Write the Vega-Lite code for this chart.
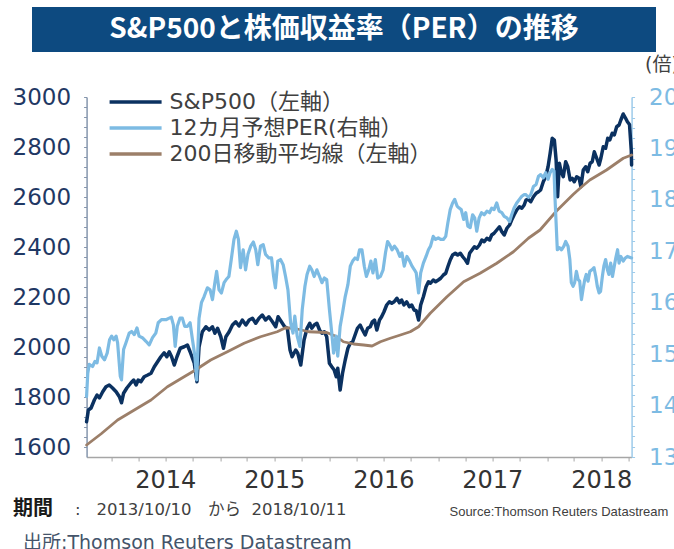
{
"$schema": "https://vega.github.io/schema/vega-lite/v6.json",
"padding": {"left": 12, "top": 7, "right": 0, "bottom": 0},
"background": "white",
"config": {"view": {"stroke": null}, "axis": {"grid": false}},
"datasets": {
"ttl": [{"t": "S&P500と株価収益率（PER）の推移"}],
"sp": [
{"d":"2013-10-10","v":1701},{"d":"2013-10-16","v":1748},{"d":"2013-10-25","v":1756},{"d":"2013-11-05","v":1788},{"d":"2013-11-14","v":1808},{"d":"2013-11-22","v":1796},{"d":"2013-12-03","v":1821},{"d":"2013-12-14","v":1841},{"d":"2013-12-25","v":1848},{"d":"2014-01-05","v":1836},{"d":"2014-01-17","v":1821},{"d":"2014-01-28","v":1801},{"d":"2014-02-04","v":1777},{"d":"2014-02-11","v":1815},{"d":"2014-02-22","v":1836},{"d":"2014-03-08","v":1857},{"d":"2014-03-17","v":1868},{"d":"2014-03-25","v":1848},{"d":"2014-04-01","v":1868},{"d":"2014-04-10","v":1861},{"d":"2014-04-21","v":1881},{"d":"2014-05-03","v":1888},{"d":"2014-05-14","v":1895},{"d":"2014-05-25","v":1921},{"d":"2014-06-05","v":1941},{"d":"2014-06-16","v":1961},{"d":"2014-06-27","v":1977},{"d":"2014-07-06","v":1961},{"d":"2014-07-14","v":1981},{"d":"2014-07-22","v":1961},{"d":"2014-07-31","v":1928},{"d":"2014-08-09","v":1961},{"d":"2014-08-20","v":1995},{"d":"2014-09-02","v":2001},{"d":"2014-09-13","v":2008},{"d":"2014-09-22","v":1981},{"d":"2014-10-06","v":1935},{"d":"2014-10-15","v":1861},{"d":"2014-10-22","v":2000},{"d":"2014-11-02","v":2061},{"d":"2014-11-14","v":2081},{"d":"2014-11-25","v":2068},{"d":"2014-12-06","v":2081},{"d":"2014-12-14","v":2055},{"d":"2014-12-23","v":2075},{"d":"2015-01-03","v":2041},{"d":"2015-01-12","v":1995},{"d":"2015-01-20","v":2041},{"d":"2015-01-31","v":2061},{"d":"2015-02-11","v":2088},{"d":"2015-02-22","v":2101},{"d":"2015-03-05","v":2084},{"d":"2015-03-16","v":2108},{"d":"2015-03-28","v":2088},{"d":"2015-04-08","v":2108},{"d":"2015-04-19","v":2115},{"d":"2015-04-30","v":2095},{"d":"2015-05-11","v":2115},{"d":"2015-05-22","v":2128},{"d":"2015-06-02","v":2108},{"d":"2015-06-13","v":2121},{"d":"2015-06-25","v":2101},{"d":"2015-07-06","v":2081},{"d":"2015-07-14","v":2121},{"d":"2015-07-25","v":2101},{"d":"2015-08-05","v":2081},{"d":"2015-08-14","v":2075},{"d":"2015-08-23","v":1988},{"d":"2015-08-30","v":1961},{"d":"2015-09-11","v":1988},{"d":"2015-09-18","v":1975},{"d":"2015-09-28","v":1928},{"d":"2015-10-09","v":2028},{"d":"2015-10-19","v":2075},{"d":"2015-10-28","v":2095},{"d":"2015-11-04","v":2075},{"d":"2015-11-12","v":2088},{"d":"2015-11-21","v":2095},{"d":"2015-11-30","v":2068},{"d":"2015-12-08","v":2055},{"d":"2015-12-16","v":2061},{"d":"2015-12-24","v":2041},{"d":"2016-01-02","v":1935},{"d":"2016-01-10","v":1921},{"d":"2016-01-18","v":1908},{"d":"2016-01-25","v":1881},{"d":"2016-01-30","v":1915},{"d":"2016-02-07","v":1828},{"d":"2016-02-15","v":1895},{"d":"2016-02-24","v":1948},{"d":"2016-03-04","v":1995},{"d":"2016-03-12","v":2015},{"d":"2016-03-20","v":2021},{"d":"2016-03-28","v":2048},{"d":"2016-04-05","v":2075},{"d":"2016-04-14","v":2088},{"d":"2016-04-22","v":2068},{"d":"2016-05-01","v":2048},{"d":"2016-05-09","v":2075},{"d":"2016-05-18","v":2081},{"d":"2016-05-25","v":2101},{"d":"2016-06-01","v":2108},{"d":"2016-06-09","v":2068},{"d":"2016-06-18","v":2108},{"d":"2016-06-25","v":2121},{"d":"2016-07-03","v":2141},{"d":"2016-07-12","v":2168},{"d":"2016-07-21","v":2181},{"d":"2016-07-29","v":2175},{"d":"2016-08-06","v":2181},{"d":"2016-08-15","v":2195},{"d":"2016-08-24","v":2177},{"d":"2016-08-31","v":2188},{"d":"2016-09-08","v":2168},{"d":"2016-09-17","v":2181},{"d":"2016-09-26","v":2161},{"d":"2016-10-04","v":2168},{"d":"2016-10-12","v":2148},{"d":"2016-10-19","v":2145},{"d":"2016-10-27","v":2108},{"d":"2016-11-03","v":2168},{"d":"2016-11-12","v":2201},{"d":"2016-11-21","v":2241},{"d":"2016-11-29","v":2261},{"d":"2016-12-06","v":2255},{"d":"2016-12-15","v":2268},{"d":"2016-12-23","v":2261},{"d":"2017-01-01","v":2268},{"d":"2017-01-09","v":2275},{"d":"2017-01-18","v":2288},{"d":"2017-01-26","v":2295},{"d":"2017-02-02","v":2321},{"d":"2017-02-10","v":2348},{"d":"2017-02-18","v":2368},{"d":"2017-02-27","v":2375},{"d":"2017-03-07","v":2368},{"d":"2017-03-16","v":2375},{"d":"2017-03-24","v":2361},{"d":"2017-04-02","v":2348},{"d":"2017-04-09","v":2335},{"d":"2017-04-16","v":2375},{"d":"2017-04-24","v":2388},{"d":"2017-05-02","v":2401},{"d":"2017-05-10","v":2395},{"d":"2017-05-19","v":2408},{"d":"2017-05-27","v":2428},{"d":"2017-06-04","v":2421},{"d":"2017-06-13","v":2435},{"d":"2017-06-22","v":2428},{"d":"2017-06-29","v":2448},{"d":"2017-07-07","v":2455},{"d":"2017-07-16","v":2468},{"d":"2017-07-25","v":2481},{"d":"2017-08-02","v":2461},{"d":"2017-08-10","v":2448},{"d":"2017-08-19","v":2475},{"d":"2017-08-28","v":2488},{"d":"2017-09-04","v":2508},{"d":"2017-09-12","v":2528},{"d":"2017-09-21","v":2548},{"d":"2017-09-30","v":2561},{"d":"2017-10-08","v":2555},{"d":"2017-10-16","v":2568},{"d":"2017-10-22","v":2588},{"d":"2017-10-30","v":2590},{"d":"2017-11-07","v":2581},{"d":"2017-11-16","v":2601},{"d":"2017-11-25","v":2615},{"d":"2017-12-03","v":2621},{"d":"2017-12-10","v":2628},{"d":"2017-12-19","v":2661},{"d":"2017-12-27","v":2681},{"d":"2018-01-04","v":2721},{"d":"2018-01-11","v":2775},{"d":"2018-01-18","v":2835},{"d":"2018-01-25","v":2828},{"d":"2018-01-31","v":2748},{"d":"2018-02-05","v":2601},{"d":"2018-02-11","v":2735},{"d":"2018-02-17","v":2701},{"d":"2018-02-24","v":2681},{"d":"2018-03-04","v":2741},{"d":"2018-03-11","v":2721},{"d":"2018-03-19","v":2668},{"d":"2018-03-26","v":2675},{"d":"2018-04-02","v":2661},{"d":"2018-04-10","v":2681},{"d":"2018-04-18","v":2675},{"d":"2018-04-24","v":2641},{"d":"2018-05-02","v":2708},{"d":"2018-05-10","v":2721},{"d":"2018-05-17","v":2701},{"d":"2018-05-25","v":2735},{"d":"2018-06-01","v":2741},{"d":"2018-06-08","v":2781},{"d":"2018-06-16","v":2755},{"d":"2018-06-24","v":2728},{"d":"2018-06-30","v":2755},{"d":"2018-07-08","v":2801},{"d":"2018-07-16","v":2795},{"d":"2018-07-23","v":2835},{"d":"2018-07-30","v":2828},{"d":"2018-08-07","v":2855},{"d":"2018-08-14","v":2848},{"d":"2018-08-22","v":2881},{"d":"2018-08-30","v":2888},{"d":"2018-09-05","v":2908},{"d":"2018-09-13","v":2932},{"d":"2018-09-21","v":2915},{"d":"2018-09-27","v":2901},{"d":"2018-10-04","v":2890},{"d":"2018-10-10","v":2785},{"d":"2018-10-11","v":2728}
],
"per": [
{"d":"2013-10-10","v":14.18},{"d":"2013-10-14","v":14.63},{"d":"2013-10-19","v":14.8},{"d":"2013-10-30","v":14.76},{"d":"2013-11-07","v":14.86},{"d":"2013-11-14","v":14.83},{"d":"2013-11-22","v":15.12},{"d":"2013-11-30","v":14.96},{"d":"2013-12-09","v":14.89},{"d":"2013-12-18","v":15.02},{"d":"2013-12-26","v":15.28},{"d":"2014-01-02","v":15.35},{"d":"2014-01-09","v":15.28},{"d":"2014-01-17","v":15.35},{"d":"2014-01-22","v":15.22},{"d":"2014-01-31","v":14.57},{"d":"2014-02-04","v":14.5},{"d":"2014-02-11","v":15.09},{"d":"2014-02-19","v":15.22},{"d":"2014-03-02","v":15.41},{"d":"2014-03-10","v":15.44},{"d":"2014-03-19","v":15.38},{"d":"2014-03-28","v":15.51},{"d":"2014-04-04","v":15.35},{"d":"2014-04-15","v":15.32},{"d":"2014-04-27","v":15.25},{"d":"2014-05-08","v":15.18},{"d":"2014-05-19","v":15.32},{"d":"2014-05-30","v":15.41},{"d":"2014-06-07","v":15.61},{"d":"2014-06-18","v":15.67},{"d":"2014-07-03","v":15.67},{"d":"2014-07-14","v":15.7},{"d":"2014-07-21","v":15.72},{"d":"2014-07-28","v":15.57},{"d":"2014-08-03","v":15.15},{"d":"2014-08-10","v":15.54},{"d":"2014-08-19","v":15.7},{"d":"2014-08-27","v":15.7},{"d":"2014-09-04","v":15.54},{"d":"2014-09-13","v":15.54},{"d":"2014-09-22","v":15.61},{"d":"2014-09-30","v":15.28},{"d":"2014-10-08","v":14.96},{"d":"2014-10-14","v":14.5},{"d":"2014-10-22","v":15.7},{"d":"2014-10-30","v":16.0},{"d":"2014-11-08","v":16.12},{"d":"2014-11-19","v":16.29},{"d":"2014-11-28","v":16.25},{"d":"2014-12-06","v":16.06},{"d":"2014-12-14","v":16.39},{"d":"2014-12-20","v":16.61},{"d":"2014-12-28","v":16.25},{"d":"2015-01-05","v":16.19},{"d":"2015-01-14","v":16.39},{"d":"2015-01-21","v":16.45},{"d":"2015-01-30","v":16.51},{"d":"2015-02-07","v":16.84},{"d":"2015-02-16","v":17.23},{"d":"2015-02-24","v":17.39},{"d":"2015-03-03","v":17.23},{"d":"2015-03-10","v":16.68},{"d":"2015-03-19","v":17.03},{"d":"2015-03-27","v":16.64},{"d":"2015-04-04","v":16.94},{"d":"2015-04-13","v":17.1},{"d":"2015-04-22","v":17.18},{"d":"2015-04-30","v":17.03},{"d":"2015-05-07","v":16.74},{"d":"2015-05-16","v":17.1},{"d":"2015-05-25","v":17.13},{"d":"2015-06-02","v":16.94},{"d":"2015-06-13","v":16.87},{"d":"2015-06-22","v":16.87},{"d":"2015-06-29","v":16.51},{"d":"2015-07-05","v":16.29},{"d":"2015-07-13","v":16.81},{"d":"2015-07-22","v":16.84},{"d":"2015-07-31","v":16.74},{"d":"2015-08-08","v":16.51},{"d":"2015-08-16","v":16.25},{"d":"2015-08-25","v":15.61},{"d":"2015-09-02","v":15.41},{"d":"2015-09-08","v":15.74},{"d":"2015-09-16","v":15.35},{"d":"2015-09-25","v":15.15},{"d":"2015-10-03","v":15.87},{"d":"2015-10-12","v":16.32},{"d":"2015-10-19","v":16.55},{"d":"2015-10-28","v":16.71},{"d":"2015-11-04","v":16.64},{"d":"2015-11-12","v":16.51},{"d":"2015-11-21","v":16.64},{"d":"2015-11-30","v":16.51},{"d":"2015-12-08","v":16.39},{"d":"2015-12-16","v":16.48},{"d":"2015-12-24","v":16.45},{"d":"2016-01-02","v":15.87},{"d":"2016-01-10","v":15.41},{"d":"2016-01-16","v":15.02},{"d":"2016-01-24","v":15.35},{"d":"2016-01-30","v":14.96},{"d":"2016-02-07","v":15.54},{"d":"2016-02-15","v":15.8},{"d":"2016-02-24","v":16.12},{"d":"2016-03-04","v":16.35},{"d":"2016-03-12","v":16.71},{"d":"2016-03-20","v":16.81},{"d":"2016-03-28","v":16.87},{"d":"2016-04-05","v":16.84},{"d":"2016-04-12","v":17.03},{"d":"2016-04-20","v":17.03},{"d":"2016-04-28","v":16.71},{"d":"2016-05-05","v":16.51},{"d":"2016-05-13","v":16.64},{"d":"2016-05-20","v":16.81},{"d":"2016-05-27","v":16.58},{"d":"2016-06-04","v":16.84},{"d":"2016-06-12","v":16.48},{"d":"2016-06-21","v":16.51},{"d":"2016-06-30","v":16.64},{"d":"2016-07-08","v":16.97},{"d":"2016-07-15","v":17.19},{"d":"2016-07-22","v":17.13},{"d":"2016-07-30","v":17.03},{"d":"2016-08-07","v":17.1},{"d":"2016-08-16","v":17.03},{"d":"2016-08-25","v":16.9},{"d":"2016-09-01","v":16.97},{"d":"2016-09-09","v":16.71},{"d":"2016-09-18","v":16.9},{"d":"2016-09-27","v":16.81},{"d":"2016-10-05","v":16.71},{"d":"2016-10-13","v":16.64},{"d":"2016-10-19","v":16.58},{"d":"2016-10-27","v":16.19},{"d":"2016-11-03","v":16.58},{"d":"2016-11-12","v":16.77},{"d":"2016-11-21","v":16.9},{"d":"2016-11-29","v":17.03},{"d":"2016-12-06","v":17.1},{"d":"2016-12-15","v":17.29},{"d":"2016-12-23","v":17.23},{"d":"2017-01-01","v":17.26},{"d":"2017-01-09","v":17.23},{"d":"2017-01-18","v":17.23},{"d":"2017-01-26","v":17.29},{"d":"2017-02-02","v":17.55},{"d":"2017-02-10","v":17.81},{"d":"2017-02-18","v":17.94},{"d":"2017-02-25","v":18.01},{"d":"2017-03-05","v":17.88},{"d":"2017-03-12","v":17.84},{"d":"2017-03-19","v":17.81},{"d":"2017-03-27","v":17.62},{"d":"2017-04-03","v":17.75},{"d":"2017-04-10","v":17.49},{"d":"2017-04-18","v":17.46},{"d":"2017-04-26","v":17.71},{"d":"2017-05-03","v":17.65},{"d":"2017-05-10","v":17.39},{"d":"2017-05-18","v":17.65},{"d":"2017-05-26","v":17.75},{"d":"2017-06-04","v":17.71},{"d":"2017-06-13","v":17.78},{"d":"2017-06-22","v":17.75},{"d":"2017-06-29","v":17.84},{"d":"2017-07-07","v":17.81},{"d":"2017-07-16","v":17.94},{"d":"2017-07-24","v":17.78},{"d":"2017-08-02","v":17.75},{"d":"2017-08-10","v":17.68},{"d":"2017-08-19","v":17.65},{"d":"2017-08-28","v":17.58},{"d":"2017-09-04","v":17.71},{"d":"2017-09-12","v":17.84},{"d":"2017-09-21","v":17.94},{"d":"2017-09-30","v":18.01},{"d":"2017-10-08","v":18.07},{"d":"2017-10-16","v":18.1},{"d":"2017-10-22","v":18.1},{"d":"2017-10-30","v":18.05},{"d":"2017-11-07","v":18.1},{"d":"2017-11-16","v":18.26},{"d":"2017-11-25","v":18.3},{"d":"2017-12-03","v":18.46},{"d":"2017-12-10","v":18.49},{"d":"2017-12-19","v":18.43},{"d":"2017-12-27","v":18.53},{"d":"2018-01-04","v":18.4},{"d":"2018-01-11","v":18.53},{"d":"2018-01-18","v":18.59},{"d":"2018-01-24","v":18.56},{"d":"2018-01-27","v":18.07},{"d":"2018-01-31","v":17.55},{"d":"2018-02-04","v":17.03},{"d":"2018-02-11","v":17.07},{"d":"2018-02-18","v":17.03},{"d":"2018-02-26","v":17.1},{"d":"2018-03-04","v":17.19},{"d":"2018-03-12","v":17.1},{"d":"2018-03-18","v":16.84},{"d":"2018-03-23","v":16.39},{"d":"2018-03-29","v":16.32},{"d":"2018-04-03","v":16.39},{"d":"2018-04-09","v":16.61},{"d":"2018-04-15","v":16.45},{"d":"2018-04-20","v":16.42},{"d":"2018-04-26","v":16.06},{"d":"2018-05-01","v":16.25},{"d":"2018-05-07","v":16.45},{"d":"2018-05-12","v":16.55},{"d":"2018-05-18","v":16.42},{"d":"2018-05-24","v":16.61},{"d":"2018-05-31","v":16.64},{"d":"2018-06-07","v":16.68},{"d":"2018-06-13","v":16.51},{"d":"2018-06-18","v":16.32},{"d":"2018-06-24","v":16.19},{"d":"2018-06-29","v":16.22},{"d":"2018-07-05","v":16.51},{"d":"2018-07-10","v":16.71},{"d":"2018-07-16","v":16.84},{"d":"2018-07-22","v":16.64},{"d":"2018-07-27","v":16.55},{"d":"2018-08-02","v":16.77},{"d":"2018-08-08","v":16.51},{"d":"2018-08-14","v":16.71},{"d":"2018-08-19","v":16.87},{"d":"2018-08-25","v":17.03},{"d":"2018-08-30","v":16.77},{"d":"2018-09-05","v":16.9},{"d":"2018-09-13","v":16.81},{"d":"2018-09-20","v":16.87},{"d":"2018-09-27","v":16.9},{"d":"2018-10-11","v":16.87}
],
"ma": [
{"d":"2013-10-10","v":1608},{"d":"2013-11-28","v":1653},{"d":"2014-01-22","v":1708},{"d":"2014-03-19","v":1748},{"d":"2014-05-14","v":1788},{"d":"2014-07-08","v":1841},{"d":"2014-09-02","v":1881},{"d":"2014-10-06","v":1905},{"d":"2014-11-30","v":1948},{"d":"2015-01-25","v":1981},{"d":"2015-03-22","v":2015},{"d":"2015-05-16","v":2041},{"d":"2015-07-11","v":2061},{"d":"2015-08-08","v":2077},{"d":"2015-09-05","v":2075},{"d":"2015-10-25","v":2061},{"d":"2015-12-24","v":2058},{"d":"2016-01-27","v":2041},{"d":"2016-02-18","v":2021},{"d":"2016-03-23","v":2012},{"d":"2016-04-26","v":2008},{"d":"2016-05-24","v":2004},{"d":"2016-06-21","v":2021},{"d":"2016-07-24","v":2035},{"d":"2016-08-27","v":2048},{"d":"2016-09-29","v":2061},{"d":"2016-10-27","v":2081},{"d":"2016-12-05","v":2135},{"d":"2017-01-30","v":2201},{"d":"2017-03-27","v":2261},{"d":"2017-05-21","v":2295},{"d":"2017-07-16","v":2335},{"d":"2017-09-10","v":2381},{"d":"2017-10-30","v":2435},{"d":"2017-12-08","v":2468},{"d":"2018-02-02","v":2545},{"d":"2018-03-29","v":2610},{"d":"2018-04-24","v":2638},{"d":"2018-05-24","v":2668},{"d":"2018-07-19","v":2708},{"d":"2018-09-13","v":2755},{"d":"2018-10-11","v":2768}
]
},
"title": {"text": "出所:Thomson Reuters Datastream", "orient": "bottom", "anchor": "start", "frame": "bounds", "fontSize": 19, "fontWeight": "normal", "font": "DejaVu Sans, Noto Sans CJK JP", "color": "#44546a", "dx": 11, "offset": 15},
"center": true,
"spacing": 3,
"resolve": {"scale": {"color": "independent"}, "legend": {"color": "independent"}},
"vconcat": [
{
"width": 624, "height": 45,
"view": {"fill": "#0d4a80", "stroke": null},
"data": {"name": "ttl"},
"mark": {"type": "text", "color": "white", "fontSize": 28, "fontWeight": "bold", "font": "Noto Sans CJK JP", "align": "center", "baseline": "middle"},
"encoding": {
 "text": {"field": "t", "type": "nominal"},
 "y": {"datum": 0.5, "type": "quantitative", "scale": {"domain": [0, 1]}, "axis": {"orient": "right", "offset": 77, "labels": false, "ticks": false, "grid": false, "title": null, "domainColor": "transparent"}}
}
},
{
"width": 545, "height": 360,
"title": {"text": "Source:Thomson Reuters Datastream", "orient": "bottom", "anchor": "end", "frame": "bounds", "fontSize": 13, "fontWeight": "normal", "font": "Liberation Sans", "color": "#404040", "offset": 0, "dx": -10, "dy": -12},
"encoding": {
"x": {"field": "d", "type": "temporal",
 "scale": {"type": "utc", "domain": [{"year": 2013, "month": 10, "date": 10, "utc": true}, {"year": 2018, "month": 10, "date": 11, "utc": true}]},
 "axis": {
  "values": [{"year":2014,"month":1,"date":1,"utc":true},{"year":2014,"month":4,"date":1,"utc":true},{"year":2014,"month":7,"date":1,"utc":true},{"year":2014,"month":10,"date":1,"utc":true},{"year":2015,"month":1,"date":1,"utc":true},{"year":2015,"month":4,"date":1,"utc":true},{"year":2015,"month":7,"date":1,"utc":true},{"year":2015,"month":10,"date":1,"utc":true},{"year":2016,"month":1,"date":1,"utc":true},{"year":2016,"month":4,"date":1,"utc":true},{"year":2016,"month":7,"date":1,"utc":true},{"year":2016,"month":10,"date":1,"utc":true},{"year":2017,"month":1,"date":1,"utc":true},{"year":2017,"month":4,"date":1,"utc":true},{"year":2017,"month":7,"date":1,"utc":true},{"year":2017,"month":10,"date":1,"utc":true},{"year":2018,"month":1,"date":1,"utc":true},{"year":2018,"month":4,"date":1,"utc":true},{"year":2018,"month":7,"date":1,"utc":true},{"year":2018,"month":10,"date":1,"utc":true}],
  "labelExpr": "utcmonth(datum.value) == 6 ? utcFormat(datum.value, '%Y') : ''",
  "labelFont": "DejaVu Sans", "labelFontSize": 24, "labelColor": "#333333", "labelPadding": 7,
  "labelFlush": false, "labelOverlap": false, "labelBound": false,
  "tickSize": 4, "tickColor": "#a6a6a6", "domainColor": "#a6a6a6", "domainWidth": 1.5,
  "title": ":\u00a0\u00a0 2013/10/10\u3000から\u00a0\u00a02018/10/11",
  "titleX": -12, "titleY": 52, "titleAlign": "left", "titleBaseline": "middle", "titleAngle": 0,
  "titleFont": "DejaVu Sans, Noto Sans CJK JP", "titleFontSize": 16.5, "titleFontWeight": "normal", "titleColor": "#404040"
 }
}
},
"layer": [
{
"layer": [
 {
 "data": {"name": "sp"},
 "mark": {"type": "line", "strokeWidth": 3.5, "strokeJoin": "round", "strokeCap": "round"},
 "encoding": {
  "y": {"field": "v", "type": "quantitative", "scale": {"domain": [1560, 3000], "nice": false, "zero": false},
   "axis": {"values": [1600,1640,1680,1720,1760,1800,1840,1880,1920,1960,2000,2040,2080,2120,2160,2200,2240,2280,2320,2360,2400,2440,2480,2520,2560,2600,2640,2680,2720,2760,2800,2840,2880,2920,2960,3000],
    "labelExpr": "datum.value % 200 == 0 ? format(datum.value, 'd') : ''",
    "labelFont": "DejaVu Sans", "labelFontSize": 23, "labelColor": "#1f3864", "labelPadding": 13, "labelOverlap": false, "labelBound": false,
    "tickSize": 3, "tickColor": "#8596ad", "domainColor": "#8596ad", "domainWidth": 1.5,
    "title": "期間", "titleX": -74, "titleY": 411, "titleAlign": "left", "titleBaseline": "middle", "titleAngle": 0,
    "titleFont": "Noto Sans CJK JP", "titleFontSize": 20, "titleFontWeight": "bold", "titleColor": "#1a1a1a"}},
  "color": {"datum": "S&P500（左軸）", "type": "nominal",
   "scale": {"domain": ["S&P500（左軸）", "12カ月予想PER(右軸）", "200日移動平均線（左軸）"], "range": ["#0b3160", "#7dbbe3", "#9c7f69"]},
   "legend": {"orient": "none", "legendX": 37, "legendY": -7, "title": null, "padding": 0, "symbolType": "M-2.6,0H2.6", "symbolSize": 400, "symbolStrokeWidth": 3.5, "labelFont": "DejaVu Sans, Noto Sans CJK JP", "labelFontSize": 22, "labelColor": "#404040", "labelOffset": 22, "labelLimit": 500, "rowPadding": 3}}
 }
 },
 {
 "data": {"name": "ma"},
 "mark": {"type": "line", "strokeWidth": 2.8, "strokeJoin": "round", "strokeCap": "round"},
 "encoding": {
  "y": {"field": "v", "type": "quantitative", "scale": {"domain": [1560, 3000], "nice": false, "zero": false},
   "axis": {"values": [1600,1640,1680,1720,1760,1800,1840,1880,1920,1960,2000,2040,2080,2120,2160,2200,2240,2280,2320,2360,2400,2440,2480,2520,2560,2600,2640,2680,2720,2760,2800,2840,2880,2920,2960,3000],
    "labelExpr": "datum.value % 200 == 0 ? format(datum.value, 'd') : ''",
    "labelFont": "DejaVu Sans", "labelFontSize": 23, "labelColor": "#1f3864", "labelPadding": 13, "labelOverlap": false, "labelBound": false,
    "tickSize": 3, "tickColor": "#8596ad", "domainColor": "#8596ad", "domainWidth": 1.5,
    "title": "期間", "titleX": -74, "titleY": 411, "titleAlign": "left", "titleBaseline": "middle", "titleAngle": 0,
    "titleFont": "Noto Sans CJK JP", "titleFontSize": 20, "titleFontWeight": "bold", "titleColor": "#1a1a1a"}},
  "color": {"datum": "200日移動平均線（左軸）", "type": "nominal",
   "scale": {"domain": ["S&P500（左軸）", "12カ月予想PER(右軸）", "200日移動平均線（左軸）"], "range": ["#0b3160", "#7dbbe3", "#9c7f69"]},
   "legend": {"orient": "none", "legendX": 37, "legendY": -7, "title": null, "padding": 0, "symbolType": "M-2.6,0H2.6", "symbolSize": 400, "symbolStrokeWidth": 3.5, "labelFont": "DejaVu Sans, Noto Sans CJK JP", "labelFontSize": 22, "labelColor": "#404040", "labelOffset": 22, "labelLimit": 500, "rowPadding": 3}}
 }
 }
]
},
{
"data": {"name": "per"},
"mark": {"type": "line", "strokeWidth": 3.2, "strokeJoin": "round", "strokeCap": "round"},
"encoding": {
 "y": {"field": "v", "type": "quantitative", "scale": {"domain": [13, 20], "nice": false, "zero": false},
  "axis": {"orient": "right", "values": [13,13.2,13.4,13.6,13.8,14,14.2,14.4,14.6,14.8,15,15.2,15.4,15.6,15.8,16,16.2,16.4,16.6,16.8,17,17.2,17.4,17.6,17.8,18,18.2,18.4,18.6,18.8,19,19.2,19.4,19.6,19.8,20],
   "labelExpr": "abs(datum.value - round(datum.value)) < 0.01 ? format(datum.value, 'd') : ''",
   "labelFont": "DejaVu Sans", "labelFontSize": 23, "labelColor": "#7dbbe3", "labelPadding": 14, "labelOverlap": false, "labelBound": false,
   "tickSize": 3, "tickColor": "#9dcbea", "domainColor": "#9dcbea", "domainWidth": 1.5,
   "title": "(倍)", "titleX": 13, "titleY": -33, "titleAlign": "left", "titleBaseline": "middle", "titleAngle": 0,
   "titleFont": "DejaVu Sans, Noto Sans CJK JP", "titleFontSize": 19, "titleFontWeight": "normal", "titleColor": "#404040"}},
 "color": {"datum": "12カ月予想PER(右軸）", "type": "nominal",
  "scale": {"domain": ["S&P500（左軸）", "12カ月予想PER(右軸）", "200日移動平均線（左軸）"], "range": ["#0b3160", "#7dbbe3", "#9c7f69"]},
  "legend": {"orient": "none", "legendX": 37, "legendY": -7, "title": null, "padding": 0, "symbolType": "M-2.6,0H2.6", "symbolSize": 400, "symbolStrokeWidth": 3.5, "labelFont": "DejaVu Sans, Noto Sans CJK JP", "labelFontSize": 22, "labelColor": "#404040", "labelOffset": 22, "labelLimit": 500, "rowPadding": 3}}
}
}
],
"resolve": {"scale": {"y": "independent"}, "axis": {"y": "independent"}}
}
]
}
